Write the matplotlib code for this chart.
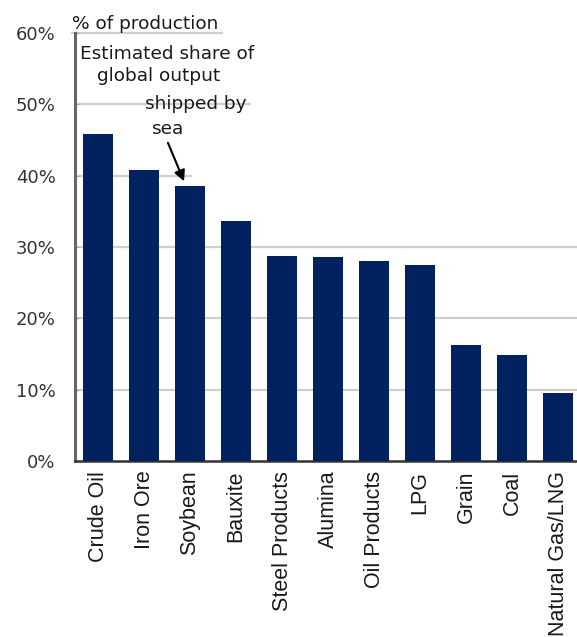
import numpy as np
import matplotlib.pyplot as plt

# share of global output shipped by sea
commodities = ["Crude Oil", "Iron Ore", "Soybean", "Bauxite", "Steel Products",
               "Alumina", "Oil Products", "LPG", "Grain", "Coal", "Natural Gas/LNG"]
share = [45.8, 40.8, 38.6, 33.6, 28.8, 28.6, 28.0, 27.5, 16.3, 14.9, 9.6]
yticks = [0, 10, 20, 30, 40, 50, 60]

navy = "#01215f"
grid_c = "#cfcfcf"

fig = plt.figure(figsize=(5.77, 6.37), dpi=100)
ax = fig.add_axes([0.130, 0.2763, 0.877, 0.672])

x = np.arange(len(commodities))
ax.bar(x, share, width=0.67, color=navy, zorder=3)

ax.set_xlim(-0.5, len(commodities) - 0.5)
ax.set_ylim(0, 60)

# gridlines (the upper ones stop short on the left side)
for v, xm in [(10, 1), (20, 1), (30, 1), (40, 0.23), (50, 0.346)]:
    ax.axhline(v, xmin=0, xmax=xm, color=grid_c, lw=1.6, zorder=1)
ax.axhline(60, xmin=-0.006, xmax=0.29, color=grid_c, lw=1.6, zorder=1, clip_on=False)

ax.set_yticks(yticks)
ax.set_yticklabels([f"{v}%" for v in yticks], fontsize=13,
                   family="DejaVu Sans", color="#333333")
ax.tick_params(axis="y", direction="in", length=3, color="#aaaaaa", pad=14)

ax.set_xticks(x)
ax.set_xticklabels(commodities, rotation=90, fontsize=15.5,
                   family="Liberation Sans", color="#1a1a1a")
ax.tick_params(axis="x", length=0, pad=7)

for s in ["top", "right"]:
    ax.spines[s].set_visible(False)
ax.spines["left"].set_color("#666666")
ax.spines["left"].set_linewidth(2.2)
ax.spines["bottom"].set_color("#333333")
ax.spines["bottom"].set_linewidth(1.8)

txt = dict(fontsize=13.3, family="DejaVu Sans", color="#1a1a1a", va="center", ha="left")
ax.text(-0.56, 60.6, "% of production", va="baseline", ha="left",
        fontsize=13.3, family="DejaVu Sans", color="#1a1a1a", clip_on=False)
ax.text(-0.39, 57.0, "Estimated share of", **txt)
ax.text(-0.02, 53.9, "global output", **txt)
ax.text(1.02, 50.0, "shipped by", **txt)
ax.text(1.17, 46.5, "sea", **txt)

ax.annotate("", xy=(1.87, 39.2), xytext=(1.52, 44.6),
            arrowprops=dict(arrowstyle="-|>", color="black", lw=1.5,
                            mutation_scale=16, shrinkA=0, shrinkB=0),
            zorder=5)

fig.savefig("out.png", dpi=100)
